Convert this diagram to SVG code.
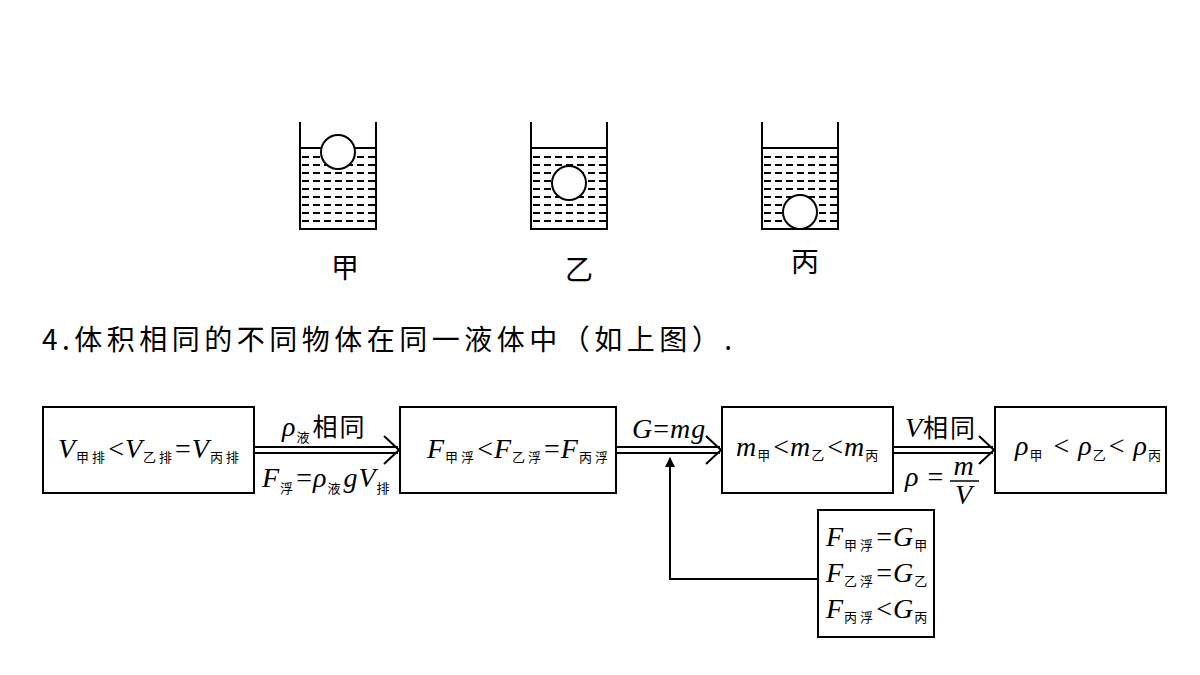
<svg xmlns="http://www.w3.org/2000/svg" width="1200" height="675" viewBox="0 0 1200 675">
<style>
.k{fill:none;stroke:#000;stroke-width:2}
.d{stroke:#000;stroke-width:2;stroke-dasharray:7 4}
.m{font-family:"Liberation Serif","Noto Sans CJK SC",serif;font-size:28px;font-style:italic;letter-spacing:1px}
.c{font-family:"Noto Sans CJK SC",serif;font-style:normal;letter-spacing:2px}
.s{font-family:"Noto Sans CJK SC",serif;font-size:13px;font-style:normal;letter-spacing:3px}
.u{font-style:normal}
.t{font-family:"Noto Sans CJK SC",sans-serif;font-size:28px}
</style>
<defs>
<g id="water">
<line class="d" x1="2" y1="157" x2="76" y2="157"/><line class="d" x1="2" y1="165" x2="76" y2="165"/>
<line class="d" x1="2" y1="173" x2="76" y2="173"/><line class="d" x1="2" y1="181" x2="76" y2="181"/>
<line class="d" x1="2" y1="189" x2="76" y2="189"/><line class="d" x1="2" y1="197" x2="76" y2="197"/>
<line class="d" x1="2" y1="205" x2="76" y2="205"/><line class="d" x1="2" y1="213" x2="76" y2="213"/>
<line class="d" x1="2" y1="221" x2="76" y2="221"/>
<line class="k" x1="0" y1="148" x2="76" y2="148"/>
<path class="k" d="M0,122V229H76V122"/>
</g>
<marker id="ah" viewBox="0 0 10 10" refX="9" refY="5" markerWidth="10" markerHeight="10" markerUnits="userSpaceOnUse" orient="auto"><path d="M0,0L10,5L0,10z"/></marker>
</defs>
<g id="beakers">
<use href="#water" x="300"/><circle cx="338" cy="152" r="17" fill="#fff" stroke="#000" stroke-width="2"/>
<use href="#water" x="531"/><circle cx="569" cy="183" r="17" fill="#fff" stroke="#000" stroke-width="2"/>
<use href="#water" x="762"/><circle cx="800" cy="212" r="17" fill="#fff" stroke="#000" stroke-width="2"/>
<text class="t" x="345" y="278" text-anchor="middle">甲</text>
<text class="t" x="579" y="280" text-anchor="middle">乙</text>
<text class="t" x="805" y="272" text-anchor="middle">丙</text>
</g>
<text class="t" x="42" y="350" letter-spacing="4.5">4.体积相同的不同物体在同一液体中（如上图）.</text>
<g id="connectors">
<g class="k">
<path d="M254,447H398M254,453H398M384,436L399,450L384,464"/>
<path d="M616,447H720M616,453H720M706,436L721,450L706,464"/>
<path d="M893,447H993M893,453H993M979,436L994,450L979,464"/>
<path d="M818,579H670V458" marker-end="url(#ah)"/>
</g>
<text class="m" x="282" y="436">ρ<tspan class="s" dy="6">液</tspan><tspan class="c" dy="-6" font-size="25">相同</tspan></text>
<text class="m" x="262" y="487">F<tspan class="s" dy="6">浮</tspan><tspan class="u" dy="-6">=</tspan>ρ<tspan class="s" dy="6">液</tspan><tspan dy="-6">gV</tspan><tspan class="s" dy="6">排</tspan></text>
<text class="m" x="632" y="438">G<tspan class="u">=</tspan>mg</text>
<text class="m" x="905" y="437">V<tspan class="c" font-size="25">相同</tspan></text>
<text class="m" x="905" y="486">ρ <tspan class="u">=</tspan></text>
<text class="m" x="964" y="475" text-anchor="middle">m</text>
<line x1="950" y1="481" x2="979" y2="481" stroke="#000" stroke-width="1.5"/>
<text class="m" x="964" y="504" text-anchor="middle">V</text>
</g>
<g id="n1"><rect class="k" x="43" y="407" width="211" height="86"/>
<text class="m" x="58" y="458">V<tspan class="s" dy="4">甲排</tspan><tspan class="u" dy="-4">&lt;</tspan>V<tspan class="s" dy="4">乙排</tspan><tspan class="u" dy="-4">=</tspan>V<tspan class="s" dy="4">丙排</tspan></text></g>
<g id="n2"><rect class="k" x="400" y="407" width="216" height="86"/>
<text class="m" x="427" y="458">F<tspan class="s" dy="4">甲浮</tspan><tspan class="u" dy="-4">&lt;</tspan>F<tspan class="s" dy="4">乙浮</tspan><tspan class="u" dy="-4">=</tspan>F<tspan class="s" dy="4">丙浮</tspan></text></g>
<g id="n3"><rect class="k" x="722" y="407" width="171" height="86"/>
<text class="m" x="736" y="456">m<tspan class="s" dy="4">甲</tspan><tspan class="u" dy="-4">&lt;</tspan>m<tspan class="s" dy="4">乙</tspan><tspan class="u" dy="-4">&lt;</tspan>m<tspan class="s" dy="4">丙</tspan></text></g>
<g id="n4"><rect class="k" x="995" y="407" width="171" height="86"/>
<text class="m" x="1015" y="455">ρ<tspan class="s" dy="5">甲</tspan><tspan class="u" dy="-5"> &lt; </tspan>ρ<tspan class="s" dy="5">乙</tspan><tspan class="u" dy="-5">&lt; </tspan>ρ<tspan class="s" dy="5">丙</tspan></text></g>
<g id="n5"><rect class="k" x="818" y="510" width="116" height="127"/>
<text class="m" x="826" y="546">F<tspan class="s" dy="4">甲浮</tspan><tspan class="u" dy="-4">=</tspan>G<tspan class="s" dy="4">甲</tspan></text>
<text class="m" x="826" y="582">F<tspan class="s" dy="4">乙浮</tspan><tspan class="u" dy="-4">=</tspan>G<tspan class="s" dy="4">乙</tspan></text>
<text class="m" x="826" y="618">F<tspan class="s" dy="4">丙浮</tspan><tspan class="u" dy="-4">&lt;</tspan>G<tspan class="s" dy="4">丙</tspan></text></g>
</svg>
